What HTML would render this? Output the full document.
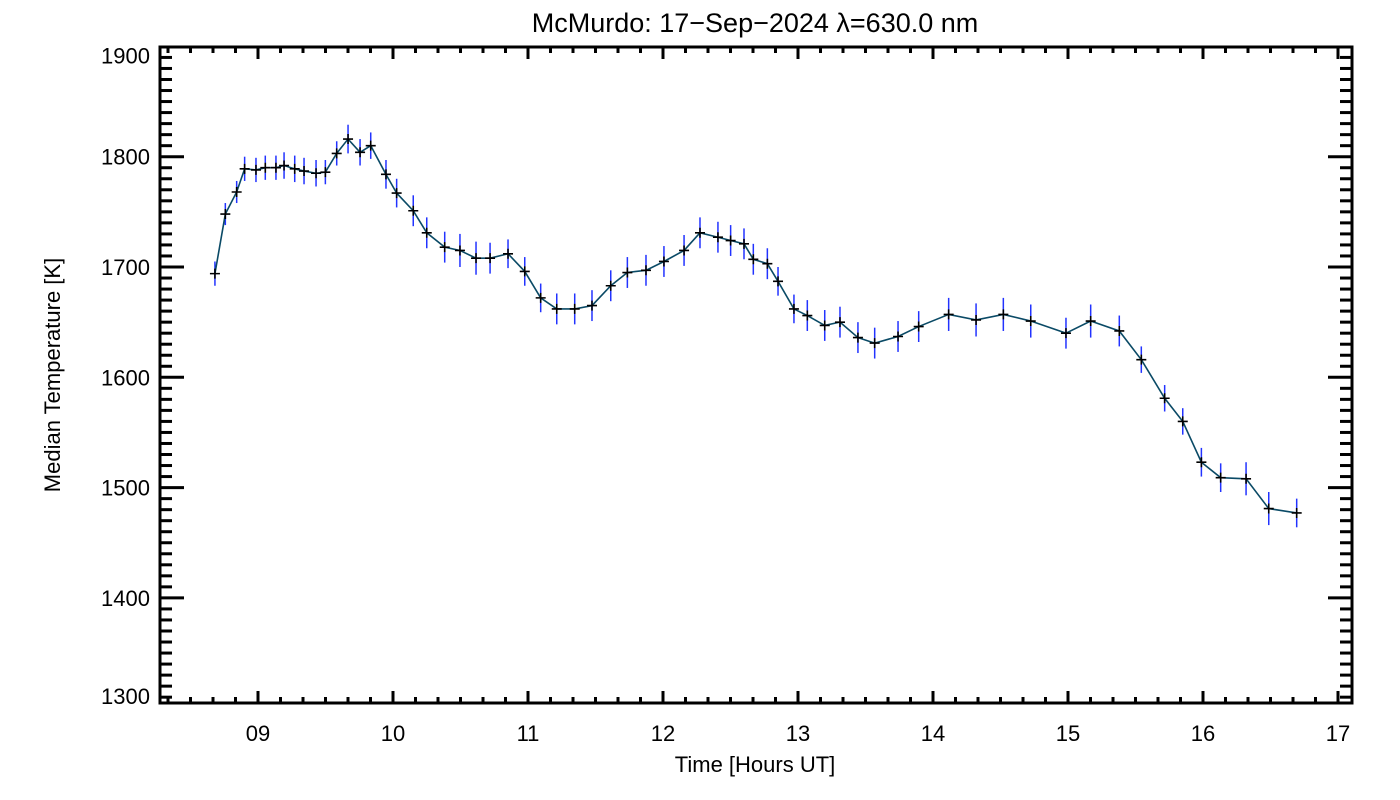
<!DOCTYPE html>
<html><head><meta charset="utf-8"><style>
body{margin:0;background:#fff;}
svg{display:block;font-family:"Liberation Sans","DejaVu Sans",sans-serif;}
</style></head><body>
<svg id="chart" width="1400" height="800" viewBox="0 0 1400 800">
<text x="755" y="32" font-size="27" text-anchor="middle" fill="#000">McMurdo: 17−Sep−2024 λ=630.0 nm</text>
<text transform="translate(60,375) rotate(-90)" font-size="22" text-anchor="middle" fill="#000">Median Temperature [K]</text>
<text x="755" y="772" font-size="22" text-anchor="middle" fill="#000">Time [Hours UT]</text>
<g id="axes"></g>
<g id="series"></g>
</svg>
<script>
const hours=[8.681,8.758,8.842,8.901,8.985,9.054,9.133,9.193,9.272,9.341,9.430,9.499,9.583,9.667,9.756,9.835,9.948,10.027,10.150,10.250,10.383,10.496,10.615,10.719,10.852,10.976,11.094,11.213,11.346,11.474,11.613,11.736,11.874,12.007,12.156,12.274,12.407,12.501,12.600,12.669,12.773,12.852,12.970,13.069,13.198,13.311,13.444,13.568,13.741,13.894,14.116,14.319,14.521,14.724,14.985,15.168,15.380,15.543,15.716,15.850,15.988,16.131,16.319,16.487,16.694];
const temps=[1694,1748,1768,1789,1788,1790,1790,1792,1789,1787,1785,1786,1803,1816,1804,1810,1784,1767,1751,1731,1718,1715,1708,1708,1712,1696,1672,1662,1662,1665,1683,1695,1697,1705,1715,1731,1727,1724,1721,1707,1703,1687,1662,1656,1647,1650,1636,1631,1637,1646,1657,1652,1657,1651,1640,1651,1642,1616,1581,1560,1523,1509,1508,1481,1477];
const errs=[11,10,10,11,11,11,11,12,12,12,12,11,11,13,12,12,13,13,14,14,14,15,15,14,13,13,13,14,14,14,14,14,14,14,14,14,14,14,14,14,14,13,13,14,14,14,14,14,14,14,15,15,15,15,14,15,14,12,12,12,13,13,15,15,13];
const yTicks=[1300,1400,1500,1600,1700,1800,1900];
const xTicks=[9,10,11,12,13,14,15,16,17];
const xTickLabels=["09","10","11","12","13","14","15","16","17"];

const L=160,R=1352,T=47,B=703;
const X=h=>258+(h-9)*135;
const Y=v=>156.7+(1800-v)*1.103;
const NS="http://www.w3.org/2000/svg";
function mk(parent,tag,attrs){const e=document.createElementNS(NS,tag);for(const k in attrs)e.setAttribute(k,attrs[k]);parent.appendChild(e);return e;}
const ax=document.getElementById('axes');
const frame=mk(ax,'rect',{x:L,y:T,width:R-L,height:B-T,fill:'none',stroke:'#000','stroke-width':3});


for(let v=1310;v<1900;v+=10){
  const y=Y(v);const major=v%100===0;const len=major?24:12;
  const t1=mk(ax,'line',{x1:L,x2:L+len,y1:y,y2:y,stroke:'#000','stroke-width':3});
  
  
  const t2=mk(ax,'line',{x1:R,x2:R-len,y1:y,y2:y,stroke:'#000','stroke-width':3});
  
  
}
yTicks.forEach(v=>{
  let yy=Y(v)+8;
  if(v===1900)yy=Y(v)+17;
  if(v===1300)yy=B+1;
  const t=mk(ax,'text',{x:150,y:yy,'font-size':22,'text-anchor':'end',fill:'#000'});
  t.textContent=v;
  
  
});
for(let m=0;;m++){
  const h=8+m/6; if(h>17.1)break; const x=X(h); if(x<L+1)continue;
  const major=m%6===0;const len=major?12:6;
  const t1=mk(ax,'line',{x1:x,x2:x,y1:B,y2:B-len,stroke:'#000','stroke-width':3});
  
  
  const t2=mk(ax,'line',{x1:x,x2:x,y1:T,y2:T+len,stroke:'#000','stroke-width':3});
  
  
}
xTicks.forEach((h,i)=>{
  const t=mk(ax,'text',{x:X(h),y:741,'font-size':22,'text-anchor':'middle',fill:'#000'});
  t.textContent=xTickLabels[i];
  
  
});
const sg=document.getElementById('series');
hours.forEach((h,i)=>{
  const e=mk(sg,'line',{x1:X(h),x2:X(h),y1:Y(temps[i]+errs[i]),y2:Y(temps[i]-errs[i]),stroke:'#2233ff','stroke-width':1.5});
  
  
});
const pl=mk(sg,'polyline',{points:hours.map((h,i)=>X(h)+','+Y(temps[i])).join(' '),fill:'none',stroke:'#0a4a66','stroke-width':1.6});


hours.forEach((h,i)=>{
  const x=X(h),y=Y(temps[i]);
  const p=mk(sg,'path',{d:`M${x-5},${y}H${x+5}M${x},${y-5}V${y+5}`,stroke:'#000','stroke-width':1.6,fill:'none'});
  
  
});
</script>
</body></html>
